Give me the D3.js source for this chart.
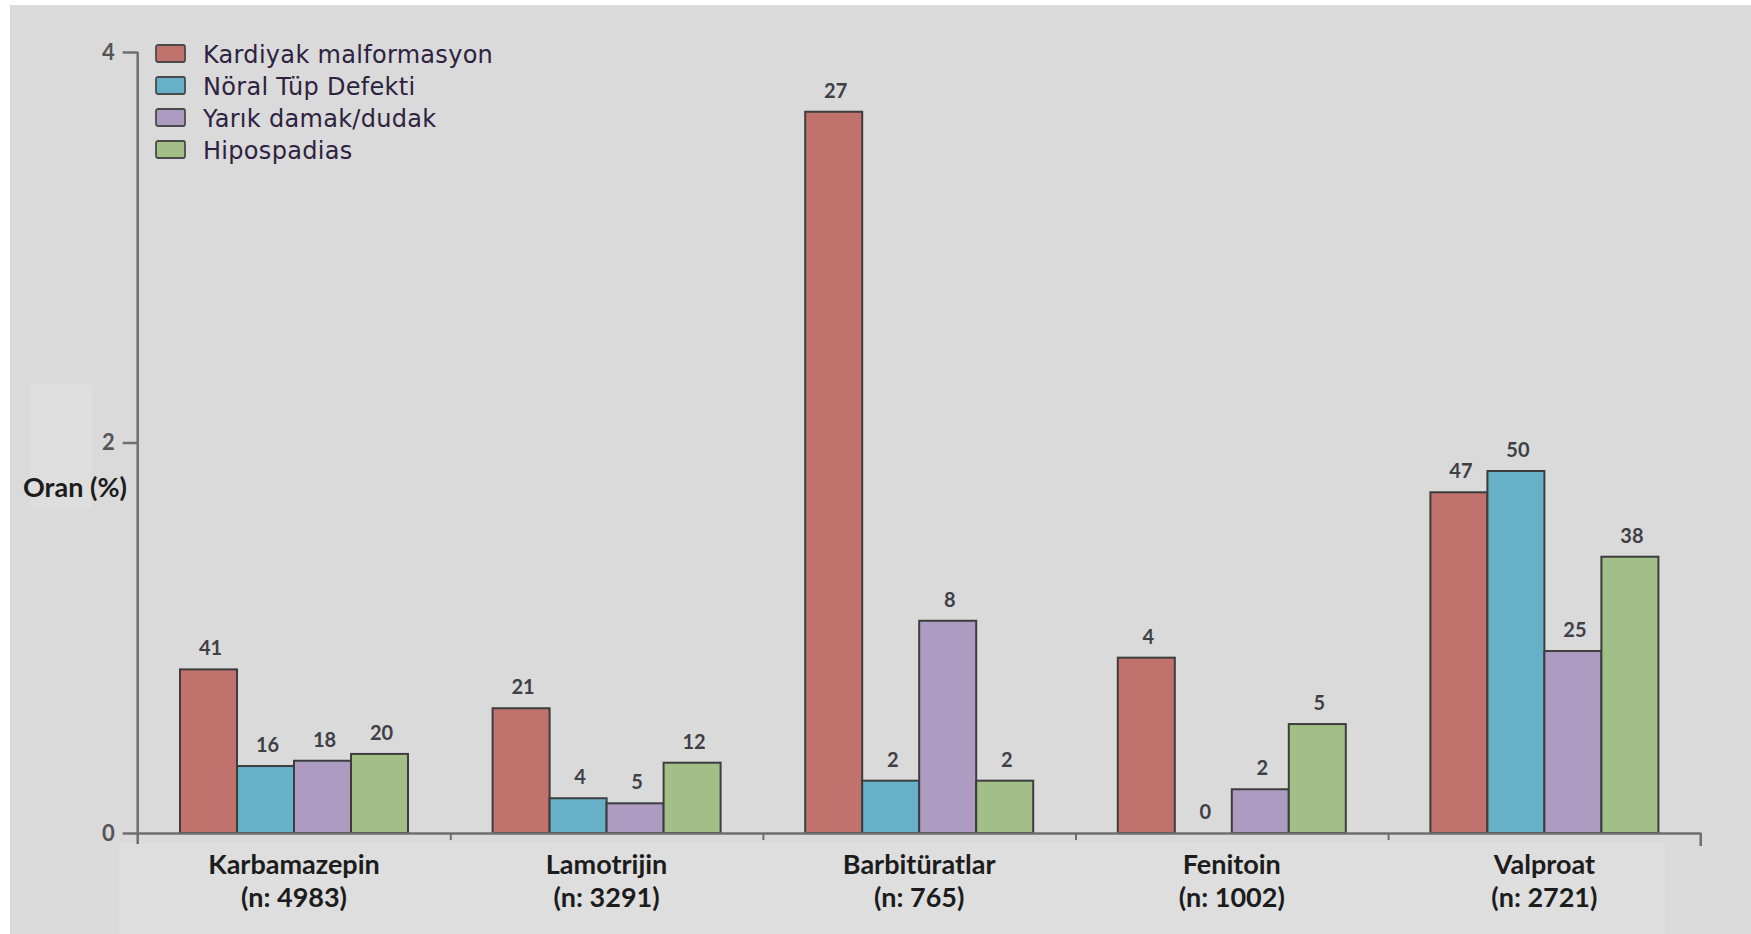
<!DOCTYPE html>
<html>
<head>
<meta charset="utf-8">
<script src="https://cdn.jsdelivr.net/npm/d3@7"></script>
<style>
  html, body { margin: 0; padding: 0; background: #ffffff; }
  svg { display: block; }
  .ytick { font-family: Lato, sans-serif; font-size: 22px; font-weight: 700; }
</style>
</head>
<body>
<svg id="chart" width="1751" height="934"></svg>
<script>
// ---- data ----
const categories = ["Karbamazepin", "Lamotrijin", "Barbitüratlar", "Fenitoin", "Valproat"];
const sampleSizes = ["(n: 4983)", "(n: 3291)", "(n: 765)", "(n: 1002)", "(n: 2721)"];
const seriesNames = ["Kardiyak malformasyon", "Nöral Tüp Defekti", "Yarık damak/dudak", "Hipospadias"];
const seriesColors = ["#c1726c", "#66b1c8", "#ae9bc2", "#a1bf86"];

// rate (%) per category
const kardiyakRate   = [0.838, 0.639, 3.694, 0.898, 1.745];
const noralRate      = [0.343, 0.178, 0.268, 0.000, 1.854];
const yarikRate      = [0.370, 0.152, 1.087, 0.224, 0.932];
const hipospadiasRate= [0.405, 0.360, 0.268, 0.558, 1.415];

// case counts shown above bars
const kardiyakCount    = [41, 21, 27, 4, 47];
const noralCount       = [16, 4, 2, 0, 50];
const yarikCount       = [18, 5, 8, 2, 25];
const hipospadiasCount = [20, 12, 2, 5, 38];

const yTicks = [0, 2, 4];

// ---- build table ----
const rates = [kardiyakRate, noralRate, yarikRate, hipospadiasRate];
const counts = [kardiyakCount, noralCount, yarikCount, hipospadiasCount];
const table = [];
categories.forEach((c, ci) => {
  seriesNames.forEach((s, si) => {
    table.push({ cat: c, series: s, si, value: rates[si][ci], count: counts[si][ci] });
  });
});

const svg = d3.select("#chart");

// background (scan-like gray panel)
svg.append("rect").attr("x", 0).attr("y", 0).attr("width", 1751).attr("height", 934).attr("fill", "#ffffff");
svg.append("rect").attr("x", 10).attr("y", 5).attr("width", 1741).attr("height", 929).attr("fill", "#dadada");
svg.append("rect").attr("x", 119).attr("y", 842).attr("width", 1546).attr("height", 92).attr("fill", "#dedede");
svg.append("rect").attr("x", 30).attr("y", 385).attr("width", 62).attr("height", 123).attr("fill", "#dedede");

const x0 = 137.7, x1 = 1700.7;
const x = d3.scaleBand().domain(categories).range([x0, x1]).padding(0);
const bw = x.bandwidth();
const xs = d3.scaleBand().domain(seriesNames).range([42.3, bw - 42.3]).padding(0);
const y = d3.scaleLinear().domain([0, 4]).range([833, 52]);

const axisColor = "#6e6e6e";

// bars
svg.append("g").selectAll("rect").data(table).join("rect")
  .attr("x", d => x(d.cat) + xs(d.series))
  .attr("y", d => y(d.value))
  .attr("width", xs.bandwidth())
  .attr("height", d => y(0) - y(d.value))
  .attr("fill", d => seriesColors[d.si])
  .attr("stroke", d => d.value > 0 ? "#3d3d3d" : "none")
  .attr("stroke-width", 2);

// value labels
svg.append("g").selectAll("text").data(table).join("text")
  .attr("x", d => x(d.cat) + xs(d.series) + xs.bandwidth() / 2 + 2)
  .attr("y", d => y(d.value) - 14)
  .attr("text-anchor", "middle")
  .style("font-family", "Lato, 'Open Sans', sans-serif")
  .style("font-size", "20px")
  .style("font-weight", 700)
  .attr("fill", "#3f3f46")
  .text(d => d.count);

// y axis
const yAxis = d3.axisLeft(y).tickValues(yTicks).tickSize(15).tickSizeOuter(0).tickPadding(8).tickFormat(d3.format("d"));
const gy = svg.append("g").attr("transform", `translate(${x0},0)`).call(yAxis);
gy.attr("font-size", null).attr("font-family", null).attr("class", "ytick");
gy.select(".domain").remove();
gy.selectAll(".tick line").attr("stroke", axisColor).attr("stroke-width", 2.5);
gy.selectAll(".tick text").attr("fill", "#555555");
svg.append("line").attr("x1", x0).attr("x2", x0).attr("y1", y(4)).attr("y2", y(0) + 11)
  .attr("stroke", axisColor).attr("stroke-width", 2.5);

// x axis (category boundaries)
const edges = d3.range(categories.length + 1);
const xe = d3.scaleLinear().domain([0, categories.length]).range([x0, x1]);
const xAxis = d3.axisBottom(xe).tickValues(edges.slice(1, -1)).tickSize(7).tickSizeOuter(0).tickFormat("");
const gx = svg.append("g").attr("transform", `translate(0,${y(0)})`).call(xAxis);
gx.select(".domain").attr("stroke", axisColor).attr("stroke-width", 2.5);
gx.selectAll(".tick line").attr("stroke", axisColor).attr("stroke-width", 2);
// end cap tick
svg.append("line").attr("x1", xe(categories.length)).attr("x2", xe(categories.length))
  .attr("y1", y(0)).attr("y2", y(0) + 13).attr("stroke", axisColor).attr("stroke-width", 2.5);

// category labels
const catG = svg.append("g").style("font-family", "Lato, sans-serif").style("font-weight", 700)
  .style("font-size", "27px").attr("fill", "#1c1c1c").attr("text-anchor", "middle");
categories.forEach((c, i) => {
  const cx = x(c) + bw / 2;
  catG.append("text").attr("x", cx).attr("y", 874).text(c);
  catG.append("text").attr("x", cx).attr("y", 907).text(sampleSizes[i]);
});

// y axis title
svg.append("text").attr("x", 23).attr("y", 497)
  .style("font-family", "Lato, sans-serif").style("font-weight", 700).style("font-size", "27px")
  .attr("fill", "#1c1c1c").text("Oran (%)");

// legend
const lg = svg.append("g").attr("transform", "translate(156,45)");
seriesNames.forEach((s, i) => {
  const row = lg.append("g").attr("transform", `translate(0,${i * 32})`);
  row.append("rect").attr("x", 0).attr("y", 0).attr("width", 29).attr("height", 17).attr("rx", 2)
    .attr("fill", seriesColors[i]).attr("stroke", "#4a4a4a").attr("stroke-width", 1.8);
  row.append("text").attr("x", 47).attr("y", 18)
    .style("font-family", "'DejaVu Sans', Verdana, sans-serif").style("font-size", "24px")
    .style("letter-spacing", "0.3px")
    .attr("fill", "#2d2240").text(s);
});
</script>
</body>
</html>
